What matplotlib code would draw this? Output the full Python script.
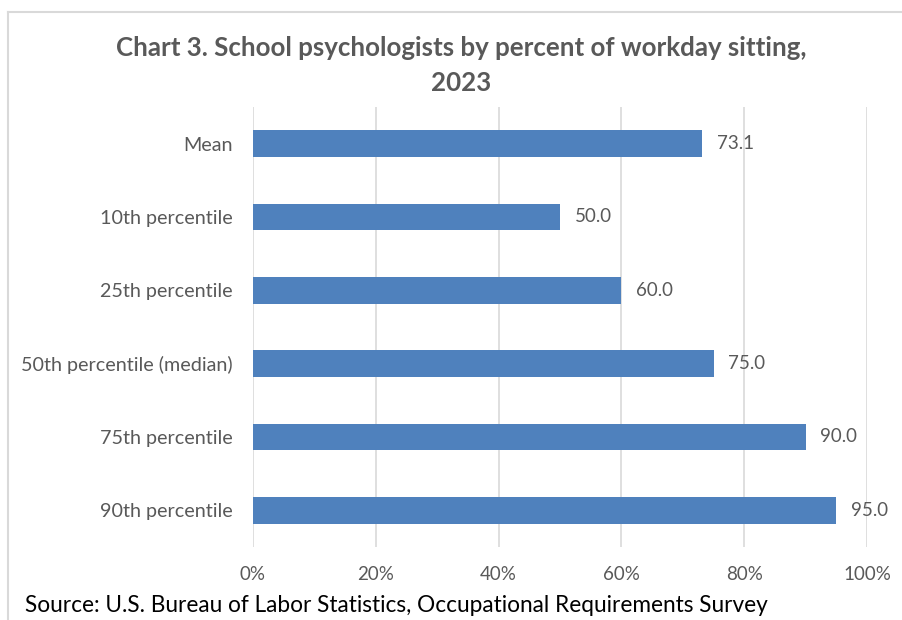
import matplotlib
matplotlib.use("Agg")
import matplotlib.pyplot as plt
from matplotlib.lines import Line2D
from matplotlib.ticker import PercentFormatter

categories = ["Mean", "10th percentile", "25th percentile",
              "50th percentile (median)", "75th percentile", "90th percentile"]
values = [73.1, 50.0, 60.0, 75.0, 90.0, 95.0]

BAR_COLOR = "#4F81BD"
TEXT_COLOR = "#595959"
FONT = "Lato"

plt.rcParams["font.family"] = [FONT, "DejaVu Sans"]

fig = plt.figure(figsize=(9.03, 6.2), dpi=100)
ax = fig.add_axes([253 / 903, 1 - 547 / 620, (867 - 253) / 903, (547 - 107) / 620])

y = list(range(len(categories)))
ax.barh(y, values, height=0.36, color=BAR_COLOR, zorder=3)
for yi, v in zip(y, values):
    ax.text(v + 2.4, yi, f"{v:.1f}", va="center", ha="left",
            fontsize=13.5, color=TEXT_COLOR)

ax.set_ylim(len(categories) - 0.5, -0.5)
ax.set_xlim(0, 100)
ax.set_yticks(y)
ax.set_yticklabels(categories, fontsize=14.2, color=TEXT_COLOR)
ax.set_xticks(range(0, 101, 20))
ax.xaxis.set_major_formatter(PercentFormatter(decimals=0))
ax.tick_params(axis="x", labelsize=13.5, colors=TEXT_COLOR, length=0, pad=14)
ax.tick_params(axis="y", length=0, pad=14.4)
ax.grid(axis="x", color="#D9D9D9", linewidth=1.2, zorder=0)
for s in ax.spines.values():
    s.set_visible(False)

fig.text(461 / 903, 1 - 48 / 620, "Chart 3. School psychologists by percent of workday sitting,",
         ha="center", va="center", fontsize=18.6, fontweight="bold", color=TEXT_COLOR)
fig.text(461 / 903, 1 - 83 / 620, "2023",
         ha="center", va="center", fontsize=18.6, fontweight="bold", color=TEXT_COLOR)
fig.text(25 / 903, 1 - 606 / 620, "Source: U.S. Bureau of Labor Statistics, Occupational Requirements Survey",
         ha="left", va="center", fontsize=16.3, color="black")

# chart border (left and top edges)
fig.add_artist(Line2D([8 / 903, 8 / 903], [0, 1 - 12 / 620], transform=fig.transFigure,
                      color="#D9D9D9", linewidth=1.5))
fig.add_artist(Line2D([8 / 903, 1], [1 - 12 / 620, 1 - 12 / 620], transform=fig.transFigure,
                      color="#D9D9D9", linewidth=1.5))

fig.savefig("out.png", dpi=100)
